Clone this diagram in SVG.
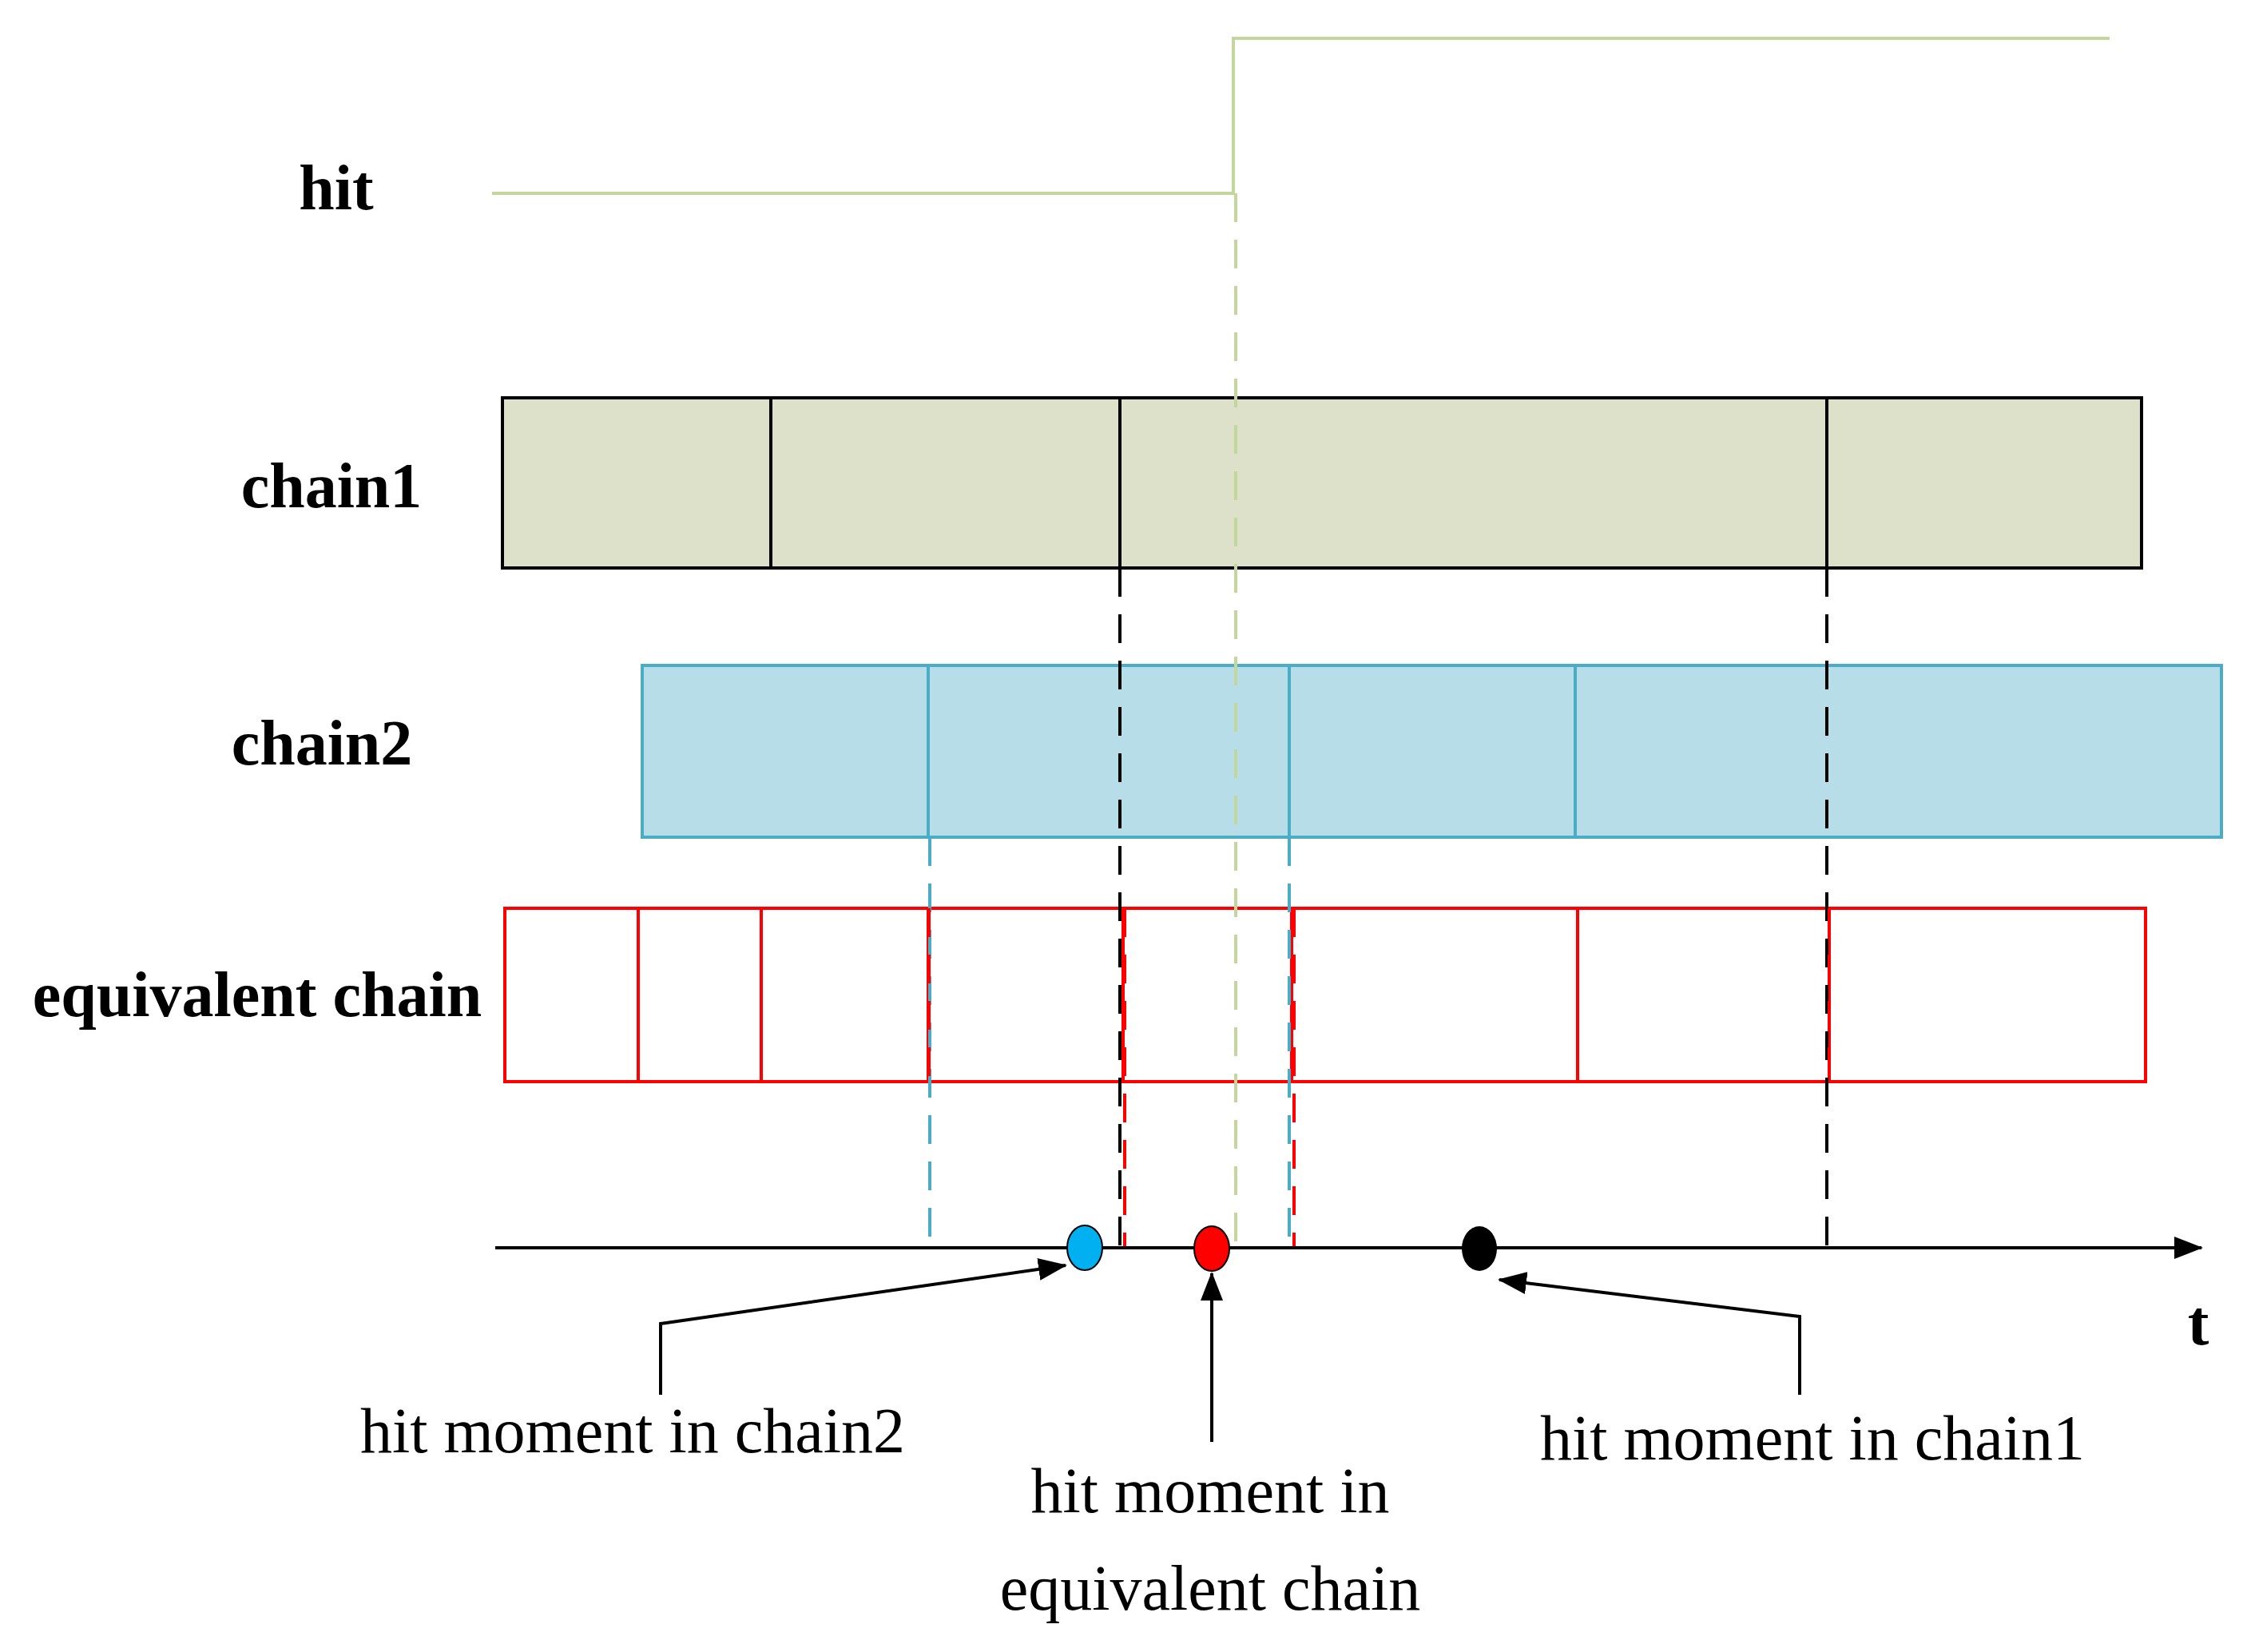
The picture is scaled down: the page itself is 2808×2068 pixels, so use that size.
<svg xmlns="http://www.w3.org/2000/svg" width="2808" height="2068" viewBox="0 0 2808 2068">
<style>
.lab{font-family:"Liberation Serif",serif;font-weight:bold;font-size:80px;text-anchor:middle}
.ann{font-family:"Liberation Serif",serif;font-size:80px;text-anchor:middle}
.blk{stroke:#000;stroke-width:4;fill:none}
.dash{stroke-width:4;stroke-dasharray:36,22;fill:none}
</style>
<defs>
<marker id="ah" viewBox="0 0 36 28" refX="34" refY="14" markerWidth="36" markerHeight="28" orient="auto" markerUnits="userSpaceOnUse">
<path d="M0,0 L36,14 L0,28 z" fill="#000"/>
</marker>
</defs>
<rect width="2808" height="2068" fill="#fff"/>
<g id="hit">
<polyline points="616,242 1544,242 1544,48 2641,48" fill="none" stroke="#c3d69b" stroke-width="4"/>
<text class="lab" x="421" y="262">hit</text>
</g>
<g id="chain1">
<rect x="629" y="498" width="2052" height="213" fill="#dee1c9" stroke="#000" stroke-width="4"/>
<path class="blk" d="M965,498V711M1402,498V711M2287,498V711"/>
<text class="lab" x="415" y="635">chain1</text>
</g>
<g id="chain2">
<rect x="804" y="833" width="1977" height="215" fill="#b7dde8" stroke="#4bacc6" stroke-width="4"/>
<path d="M1162,833V1048M1614,833V1048M1972,833V1048" stroke="#4bacc6" stroke-width="4"/>
<text class="lab" x="403" y="957">chain2</text>
</g>
<g id="equivalent">
<rect x="632" y="1137" width="2054" height="217" fill="#fff" stroke="#ff0000" stroke-width="4"/>
<path d="M799,1137V1354M953,1137V1354M1162,1137V1354M1406,1137V1354M1617,1137V1354M1975,1137V1354M2290,1137V1354" stroke="#ff0000" stroke-width="4"/>
<text class="lab" x="322" y="1272">equivalent chain</text>
</g>
<g id="connectors">
<path class="dash" stroke="#c3d69b" d="M1547,242V1558"/>
<path class="dash" stroke="#000" d="M1402,711V1562M2287,711V1562"/>
<path class="dash" stroke="#4bacc6" d="M1164,1048V1562M1614,1048V1562"/>
<path class="dash" stroke="#ff0000" d="M1408,1137V1560M1620,1137V1560M1163,1137V1354M2290,1137V1354"/>
<line x1="620" y1="1562" x2="2756" y2="1562" stroke="#000" stroke-width="4" marker-end="url(#ah)"/>
<polyline class="blk" points="827,1746 827,1657 1334,1584" marker-end="url(#ah)"/>
<polyline class="blk" points="1517,1805 1517,1594" marker-end="url(#ah)"/>
<polyline class="blk" points="2253,1746 2253,1648 1877,1602" marker-end="url(#ah)"/>
</g>
<g id="dots">
<ellipse cx="1358" cy="1562" rx="22" ry="28" fill="#00b0f0" stroke="#000" stroke-width="2"/>
<ellipse cx="1517" cy="1563" rx="22" ry="28" fill="#ff0000" stroke="#000" stroke-width="2"/>
<ellipse cx="1852" cy="1563" rx="22" ry="28" fill="#000"/>
</g>
<text class="lab" x="2752" y="1683">t</text>
<text class="ann" x="792" y="1818">hit moment in chain2</text>
<text class="ann" x="1515" y="1893">hit moment in</text>
<text class="ann" x="1515" y="2015">equivalent chain</text>
<text class="ann" x="2269" y="1827">hit moment in chain1</text>
</svg>
